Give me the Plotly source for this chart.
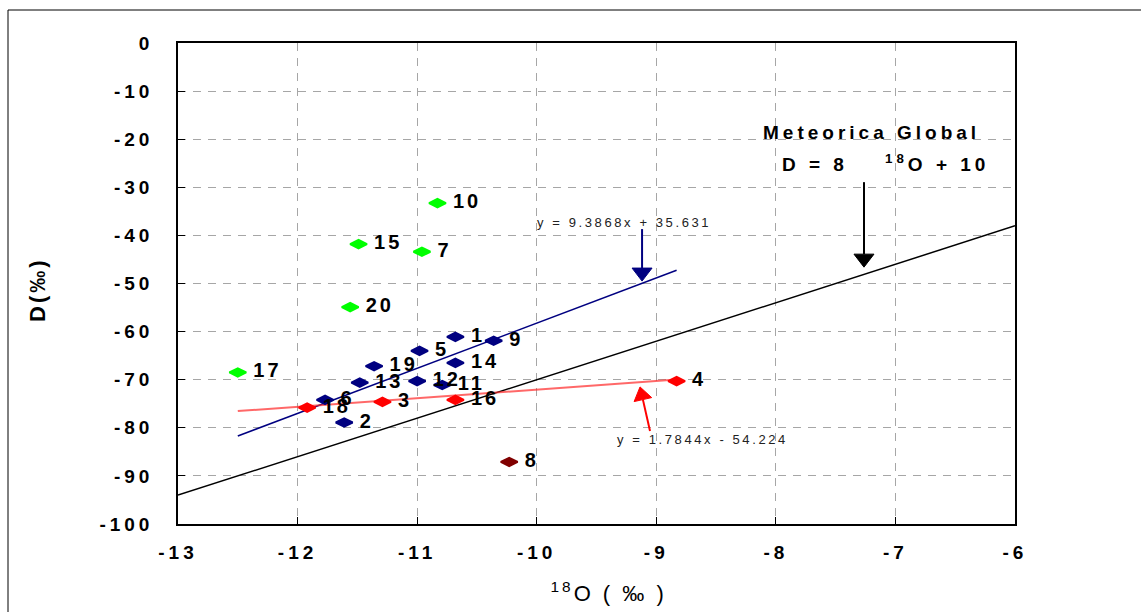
import math
import plotly.graph_objects as go

# ---------------- data ----------------
green_ids = ["10", "15", "7", "20", "17"]
green_x = [-10.83, -11.49, -10.96, -11.56, -12.50]
green_y = [-33.3, -41.8, -43.4, -54.9, -68.5]

navy_ids = ["1", "9", "5", "14", "19", "13", "12", "11", "6", "2"]
navy_x = [-10.68, -10.36, -10.98, -10.68, -11.36, -11.48, -11.00, -10.79, -11.77, -11.61]
navy_y = [-61.1, -61.9, -64.0, -66.5, -67.2, -70.6, -70.3, -71.1, -74.2, -78.9]

red_ids = ["18", "3", "16", "4"]
red_x = [-11.92, -11.29, -10.68, -8.83]
red_y = [-75.8, -74.6, -74.2, -70.3]

dark_ids = ["8"]
dark_x = [-10.23]
dark_y = [-87.1]

trend_slopes = [9.3868, 1.7844]
trend_intercepts = [35.631, -54.224]
trend_labels = ["y = 9.3868x + 35.631", "y = 1.7844x - 54.224"]

gmwl_slope = 8
gmwl_intercept = 10

x_ticks = [-13, -12, -11, -10, -9, -8, -7, -6]
y_ticks = [0, -10, -20, -30, -40, -50, -60, -70, -80, -90, -100]

# ---------------- figure ----------------
FONT = "Liberation Sans, Arial, sans-serif"
fig = go.Figure()

all_x = green_x + navy_x + red_x + dark_x
tx = [min(all_x), max(all_x)]

gx = [x_ticks[0], x_ticks[-1]]
fig.add_trace(go.Scatter(x=gx, y=[gmwl_slope * v + gmwl_intercept for v in gx],
                         mode="lines", line=dict(color="black", width=1.5),
                         hoverinfo="skip", showlegend=False))
fig.add_trace(go.Scatter(x=tx, y=[trend_slopes[0] * v + trend_intercepts[0] for v in tx],
                         mode="lines", line=dict(color="#000080", width=1.5),
                         hoverinfo="skip", showlegend=False))
fig.add_trace(go.Scatter(x=tx, y=[trend_slopes[1] * v + trend_intercepts[1] for v in tx],
                         mode="lines", line=dict(color="rgba(255,40,40,0.7)", width=2),
                         hoverinfo="skip", showlegend=False))

def pts(x, y, ids, color):
    fig.add_trace(go.Scatter(
        x=x, y=y, text=ids, mode="markers+text", textposition="middle right",
        marker=dict(symbol="diamond-wide", size=12, color=color,
                    line=dict(color=color, width=2)),
        textfont=dict(family=FONT, size=20, color="black", weight="bold"),
        showlegend=False))

pts(green_x, green_y, green_ids, "#00FF00")
pts(navy_x, navy_y, navy_ids, "#000080")
pts(red_x, red_y, red_ids, "#FF0000")
pts(dark_x, dark_y, dark_ids, "#800000")

def px2paper_x(p):
    return (p - 178) / 837

def px2paper_y(p):
    return (524 - p) / 481

annotations = [
    dict(x=-7.196, y=-18.7, text="Meteorica Global", showarrow=False,
         xanchor="center", yanchor="middle",
         font=dict(family=FONT, size=19, color="black", weight="bold")),
    dict(x=-7.087, y=-24.9, text="D = 8\u00a0\u00a0\u00a0\u00a0<sup>18</sup>O + 10", showarrow=False,
         xanchor="center", yanchor="middle",
         font=dict(family=FONT, size=19, color="black", weight="bold")),
    dict(x=-9.270, y=-37.4, text=trend_labels[0], showarrow=False,
         xanchor="center", yanchor="middle",
         font=dict(family=FONT, size=13, color="#222222")),
    dict(x=-8.613, y=-82.5, text=trend_labels[1], showarrow=False,
         xanchor="center", yanchor="middle",
         font=dict(family=FONT, size=13, color="#222222")),
    dict(xref="paper", yref="paper", x=px2paper_x(608), y=px2paper_y(592),
         xanchor="center", yanchor="middle",
         text="<sup>18</sup>O ( ‰ )", showarrow=False,
         font=dict(family=FONT, size=22, color="black")),
    dict(xref="paper", yref="paper", x=px2paper_x(37), y=px2paper_y(290),
         xanchor="center", yanchor="middle",
         text="D(‰)", showarrow=False, textangle=-90,
         font=dict(family=FONT, size=22, color="black", weight="bold")),
]

shapes = [
    dict(type="rect", xref="paper", yref="paper",
         x0=px2paper_x(8), x1=px2paper_x(1300), y0=px2paper_y(10), y1=px2paper_y(700),
         line=dict(color="black", width=1), fillcolor="rgba(0,0,0,0)", layer="below"),
]

def arrow(xt, yt, tail_dx, tail_up, color, hw=20, hl=13, w=2):
    # tail offset in pixels from the tip (x right, y up)
    L = math.hypot(tail_dx, tail_up)
    ux, uy = -tail_dx / L, -tail_up / L      # direction tail -> tip
    bx, by = -ux * hl, -uy * hl              # base centre of head
    px, py = -uy * hw / 2, ux * hw / 2
    shapes.append(dict(type="line", xref="x", yref="y", xsizemode="pixel", ysizemode="pixel",
                       xanchor=xt, yanchor=yt, x0=tail_dx, y0=tail_up, x1=bx, y1=by,
                       line=dict(color=color, width=w)))
    shapes.append(dict(type="path", xref="x", yref="y", xsizemode="pixel", ysizemode="pixel",
                       xanchor=xt, yanchor=yt,
                       path=f"M0,0 L{bx + px:.2f},{by + py:.2f} L{bx - px:.2f},{by - py:.2f} Z",
                       fillcolor=color, line=dict(color=color, width=1)))

arrow(-9.119, -49.5, 0, 52, "#000080")
arrow(-7.263, -46.6, 0, 85, "black")
arrow(-9.136, -71.5, 10, -44, "#FF0000", hw=18)

axis_common = dict(showline=True, linecolor="black", linewidth=1.5, mirror=True,
                   showgrid=True, gridcolor="#a6a6a6", gridwidth=1, griddash="8px,7px",
                   zeroline=False, ticks="inside", ticklen=7, tickcolor="black", tickwidth=1,
                   tickfont=dict(family=FONT, size=19, color="black", weight="bold"))

fig.update_layout(
    width=1141, height=612,
    margin=dict(l=178, r=126, t=43, b=88),
    paper_bgcolor="white", plot_bgcolor="white",
    xaxis=dict(range=[-13, -6], tickvals=x_ticks, ticktext=[str(v) for v in x_ticks],
               ticklabelstandoff=10, **axis_common),
    yaxis=dict(range=[-100, 0], tickvals=y_ticks, ticktext=[str(v) for v in y_ticks],
               ticklabelstandoff=19, **axis_common),
    annotations=annotations, shapes=shapes,
)

js = """
document.body.style.margin = '0';
var gd = document.getElementById('{plot_id}');
function sp(){
  gd.querySelectorAll('.xtick text, .ytick text').forEach(function(t){t.style.letterSpacing='4px';});
  gd.querySelectorAll('.textpoint text').forEach(function(t){t.style.letterSpacing='3px'; t.setAttribute('dx','7');});
  var m = {0:'4px',1:'4px',2:'2.6px',3:'2.6px',4:'3px',5:'3px'};
  Object.keys(m).forEach(function(k){
    var a = gd.querySelector('.annotation[data-index="'+k+'"] .annotation-text');
    if(a){a.style.letterSpacing=m[k];}
  });
}
sp();
gd.on('plotly_afterplot', sp);
"""

fig.write_html("out.html", config={"displayModeBar": False}, post_script=js)
